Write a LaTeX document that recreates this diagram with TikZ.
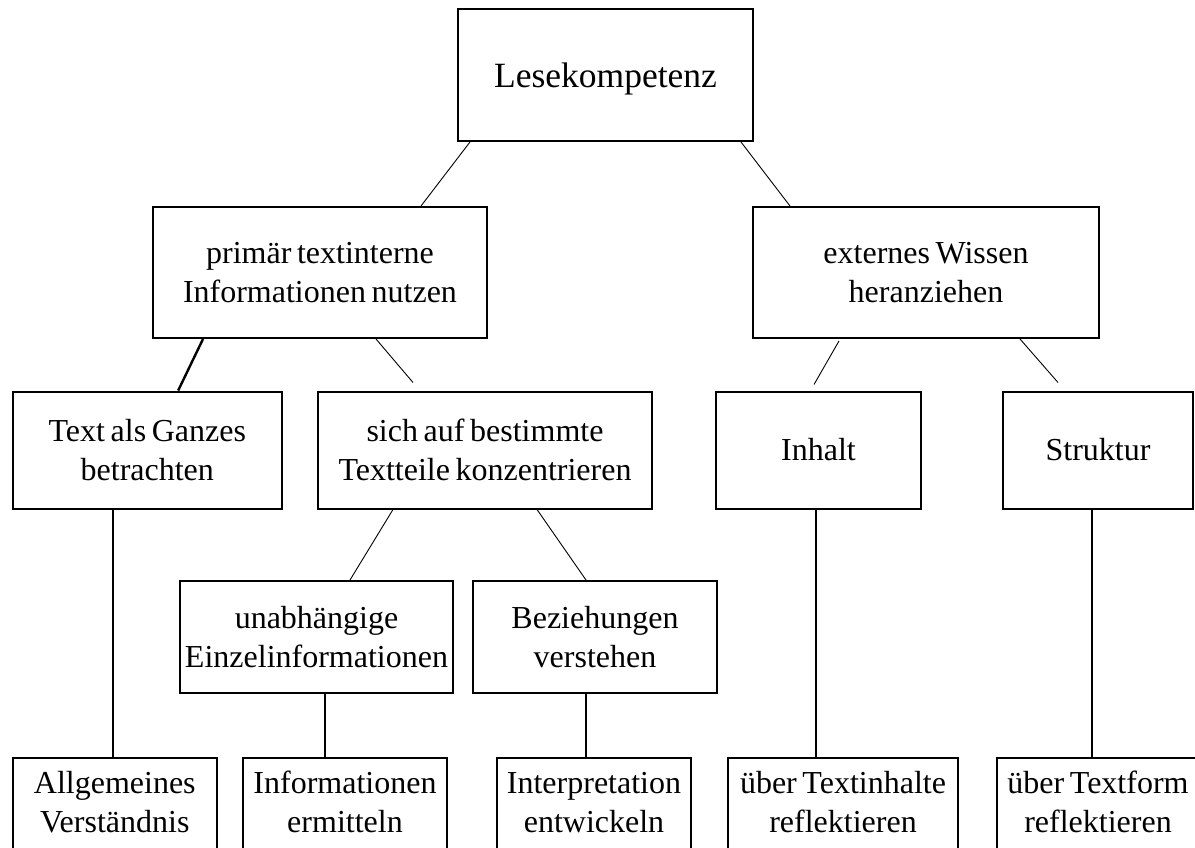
\documentclass[tikz,border=0pt]{standalone}
\usepackage{fontspec}
\setmainfont[WordSpace=0.7]{Liberation Serif}
\usetikzlibrary{calc}
\begin{document}
\begin{tikzpicture}[x=1pt,y=-1pt,
  box/.style={draw, line width=2pt, inner sep=2pt, align=center, font=\fontsize{32}{39}\selectfont},
  bbox/.style={box, minimum height=94pt, text depth=6pt},
  conn/.style={line width=0.9pt},
  vline/.style={line width=1.9pt},
  thick conn/.style={line width=2.4pt}]
\useasboundingbox (0,0) rectangle (1195,848);
\fill[white] (0,0) rectangle (1195,848);
\clip (0,0) rectangle (1195,848);

% level 0
\node[box, minimum width=295pt, minimum height=132pt, text depth=0pt,
      font=\fontsize{35.5}{42}\selectfont] (L) at (605.5,75) {Lesekompetenz};
% level 1
\node[box, minimum width=334pt, minimum height=131pt] (P) at (320,272.5) {primär textinterne\\Informationen nutzen};
\node[box, minimum width=346pt, minimum height=131pt] (E) at (926,272.5) {externes Wissen\\heranziehen};
% level 2
\node[box, minimum width=269pt, minimum height=117pt] (T) at (147.3,450) {Text als Ganzes\\betrachten};
\node[box, minimum width=334pt, minimum height=117pt] (S) at (485,450) {sich auf bestimmte\\Textteile konzentrieren};
\node[box, minimum width=205pt, minimum height=117pt] (I) at (818.5,450) {Inhalt};
\node[box, minimum width=190pt, minimum height=117pt] (St) at (1098,450) {Struktur};
% level 3
\node[box, minimum width=273pt, minimum height=112pt] (U) at (316.5,637) {unabhängige\\Einzelinformationen};
\node[box, minimum width=244pt, minimum height=112pt] (B) at (595,637) {Beziehungen\\verstehen};
% bottom row
\node[bbox, minimum width=204.4pt] (A) at (114.8,805) {Allgemeines\\Verständnis};
\node[bbox, minimum width=204pt] (F) at (345,805) {Informationen\\ermitteln};
\node[bbox, minimum width=194pt] (N) at (594,805) {Interpretation\\entwickeln};
\node[bbox, minimum width=230pt] (R1) at (843,805) {über Textinhalte\\reflektieren};
\node[bbox, minimum width=202pt] (R2) at (1098,805) {über Textform\\reflektieren};

% diagonal connectors
\draw[conn] ($(L.south west)+(13,0)$) -- ($(P.north west)+(269,0)$);
\draw[conn] ($(L.south west)+(284,0)$) -- ($(E.north west)+(38,0)$);
\draw[thick conn] ($(P.south west)+(51,0)$) -- ($(T.north west)+(166.4,0)$);
\draw[conn] ($(P.south west)+(224,0)$) -- ($(S.north west)+(96,-8)$);
\draw[conn] ($(E.south west)+(87,2)$) -- ($(I.north west)+(99,-6)$);
\draw[conn] ($(E.south west)+(268,0)$) -- ($(St.north west)+(56,-8)$);
\draw[conn] ($(S.south west)+(76,0)$) -- ($(U.north west)+(171,0)$);
\draw[conn] ($(S.south west)+(220,0)$) -- ($(B.north west)+(114,0)$);

% vertical connectors
\draw[vline] ($(T.south west)+(101.4,0)$) coordinate (t1) -- (t1 |- A.north);
\draw[vline] ($(U.south west)+(146,0)$) coordinate (u1) -- (u1 |- F.north);
\draw[vline] ($(B.south west)+(114,0)$) coordinate (b1) -- (b1 |- N.north);
\draw[vline] ($(I.south west)+(101,0)$) coordinate (i1) -- (i1 |- R1.north);
\draw[vline] ($(St.south west)+(90,0)$) coordinate (s1) -- (s1 |- R2.north);
\end{tikzpicture}
\end{document}
